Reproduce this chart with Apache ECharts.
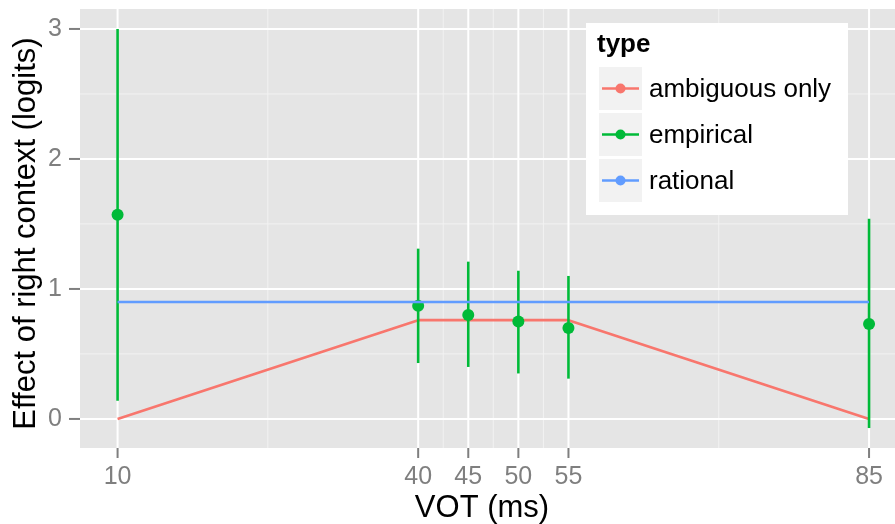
<!DOCTYPE html>
<html>
<head>
<meta charset="utf-8">
<script src="https://cdn.jsdelivr.net/npm/echarts@6/dist/echarts.min.js"></script>
<style>html,body{margin:0;padding:0;background:#fff;}#c{width:895px;height:524px;}</style>
</head>
<body>
<div id="c"></div>
<script>
// ---- data ----
const xMajor = [10, 40, 45, 50, 55, 85];
const xMinor = [25, 42.5, 47.5, 52.5, 70];
const yMajor = [0, 1, 2, 3];
const yMinor = [0.5, 1.5, 2.5];
const vot = [10, 40, 45, 50, 55, 85];
const empirical = [1.57, 0.87, 0.80, 0.75, 0.70, 0.73];
const empLow = [0.14, 0.43, 0.40, 0.35, 0.31, -0.07];
const empHigh = [3.00, 1.31, 1.21, 1.14, 1.10, 1.54];
const ambX = [10, 40, 55, 85];
const ambY = [0, 0.76, 0.76, 0];
const ratX = [10, 85];
const ratY = [0.90, 0.90];
const legendNames = ['ambiguous only', 'empirical', 'rational'];
const legendColors = ['#F8766D', '#00BA38', '#619CFF'];

// panel (plotting region) limits in data units; the axes extend slightly beyond to leave room for ticks
const PANEL_X = [6.25, 87.59];
const PANEL_Y = [-0.2235, 3.1535];
const AXIS_X = [5.152, 87.59];
const AXIS_Y = [-0.3004, 3.1535];

const FONT = '"Liberation Sans", Arial, Helvetica, sans-serif';
const TICK = '#7F7F7F';
const chart = echarts.init(document.getElementById('c'));

function panelBg() {
  return {
    type: 'custom', silent: true, z: -1,
    data: [[PANEL_X[0], PANEL_Y[0]]],
    renderItem: function (params, api) {
      const a = api.coord([PANEL_X[0], PANEL_Y[1]]);
      const b = api.coord([PANEL_X[1], PANEL_Y[0]]);
      return { type: 'rect', shape: { x: a[0], y: a[1], width: b[0] - a[0], height: b[1] - a[1] },
               style: { fill: '#E5E5E5' } };
    }
  };
}
function vLines(values, color, width, z) {
  return {
    type: 'custom', silent: true, z: z,
    data: values.map(v => [v, 1]),
    renderItem: function (params, api) {
      const t = api.coord([api.value(0), PANEL_Y[1]]);
      const b = api.coord([api.value(0), PANEL_Y[0]]);
      return { type: 'line', shape: { x1: t[0], y1: t[1], x2: b[0], y2: b[1] },
               style: { stroke: color, lineWidth: width } };
    }
  };
}
function hLines(values, color, width, z) {
  return {
    type: 'custom', silent: true, z: z,
    data: values.map(v => [20, v]),
    renderItem: function (params, api) {
      const l = api.coord([PANEL_X[0], api.value(1)]);
      const r = api.coord([PANEL_X[1], api.value(1)]);
      return { type: 'line', shape: { x1: l[0], y1: l[1], x2: r[0], y2: r[1] },
               style: { stroke: color, lineWidth: width } };
    }
  };
}
function xTicks(values) {
  return {
    type: 'custom', silent: true, z: 10,
    data: values.map(v => [v, 1]),
    renderItem: function (params, api) {
      const p = api.coord([api.value(0), PANEL_Y[0]]);
      return { type: 'line', shape: { x1: p[0], y1: p[1], x2: p[0], y2: p[1] + 10 },
               style: { stroke: TICK, lineWidth: 2 } };
    }
  };
}
function yTicks(values) {
  return {
    type: 'custom', silent: true, z: 10,
    data: values.map(v => [20, v]),
    renderItem: function (params, api) {
      const p = api.coord([PANEL_X[0], api.value(1)]);
      return { type: 'line', shape: { x1: p[0] - 11, y1: p[1], x2: p[0], y2: p[1] },
               style: { stroke: TICK, lineWidth: 2 } };
    }
  };
}

// legend graphic
const legendEls = [
  { type: 'rect', z: 100, silent: true, shape: { x: 586, y: 23, width: 262, height: 192 }, style: { fill: '#FFFFFF' } },
  { type: 'text', z: 101, silent: true, x: 597, y: 45,
    style: { text: 'type', fontSize: 26, fontWeight: 'bold', fontFamily: FONT, fill: '#000', verticalAlign: 'middle', align: 'left' } }
];
legendNames.forEach((n, i) => {
  const top = 67 + i * 46;
  const cy = top + 21.5;
  legendEls.push({ type: 'rect', z: 101, silent: true, shape: { x: 599, y: top, width: 43, height: 43 }, style: { fill: '#F2F2F2' } });
  legendEls.push({ type: 'line', z: 102, silent: true, shape: { x1: 602, y1: cy, x2: 639, y2: cy }, style: { stroke: legendColors[i], lineWidth: 2.4 } });
  legendEls.push({ type: 'circle', z: 103, silent: true, shape: { cx: 620.5, cy: cy, r: 5 }, style: { fill: legendColors[i] } });
  legendEls.push({ type: 'text', z: 101, silent: true, x: 649, y: cy + 1,
    style: { text: n, fontSize: 26, fontFamily: FONT, fill: '#000', verticalAlign: 'middle', align: 'left' } });
});

const option = {
  animation: false,
  grid: { left: 69, top: 9, right: 0, bottom: 66, show: false, containLabel: false, outerBoundsMode: 'none' },
  xAxis: {
    type: 'value', min: AXIS_X[0], max: AXIS_X[1],
    name: 'VOT (ms)', nameLocation: 'middle', nameGap: 35, nameMoveOverlap: false,
    nameTextStyle: { fontSize: 31, color: '#000', fontFamily: FONT },
    axisLine: { show: false, onZero: false },
    splitLine: { show: false },
    axisTick: { show: false },
    axisLabel: { customValues: xMajor, margin: 7, fontSize: 25, color: TICK, fontFamily: FONT }
  },
  yAxis: {
    type: 'value', min: AXIS_Y[0], max: AXIS_Y[1],
    name: 'Effect of right context (logits)', nameLocation: 'middle', nameGap: 27, nameRotate: 90, nameMoveOverlap: false,
    nameTextStyle: { fontSize: 31, color: '#000', fontFamily: FONT },
    axisLine: { show: false, onZero: false },
    splitLine: { show: false },
    axisTick: { show: false },
    axisLabel: { customValues: yMajor, margin: 7, fontSize: 25, color: TICK, fontFamily: FONT }
  },
  series: [
    panelBg(),
    vLines(xMinor, '#F2F2F2', 1, 0),
    hLines(yMinor, '#F2F2F2', 1, 0),
    vLines(xMajor, '#FFFFFF', 2, 1),
    hLines(yMajor, '#FFFFFF', 2, 1),
    xTicks(xMajor),
    yTicks(yMajor),
    {
      name: 'ambiguous only', type: 'line', z: 3,
      data: ambX.map((x, i) => [x, ambY[i]]),
      showSymbol: false, symbol: 'none',
      lineStyle: { color: '#F8766D', width: 2.6 }
    },
    {
      name: 'empirical-err', type: 'custom', z: 4,
      data: vot.map((x, i) => [x, empLow[i], empHigh[i]]),
      renderItem: function (params, api) {
        const p1 = api.coord([api.value(0), api.value(1)]);
        const p2 = api.coord([api.value(0), api.value(2)]);
        return { type: 'line', shape: { x1: p1[0], y1: p1[1], x2: p2[0], y2: p2[1] },
                 style: { stroke: '#00BA38', lineWidth: 2.6 } };
      },
      encode: { x: 0, y: [1, 2] }
    },
    {
      name: 'empirical', type: 'scatter', z: 5,
      data: vot.map((x, i) => [x, empirical[i]]),
      symbolSize: 12,
      itemStyle: { color: '#00BA38', opacity: 1 }
    },
    {
      name: 'rational', type: 'line', z: 6,
      data: ratX.map((x, i) => [x, ratY[i]]),
      showSymbol: false, symbol: 'none',
      lineStyle: { color: '#619CFF', width: 2.6 }
    }
  ],
  graphic: legendEls
};
chart.setOption(option);
</script>
</body>
</html>
